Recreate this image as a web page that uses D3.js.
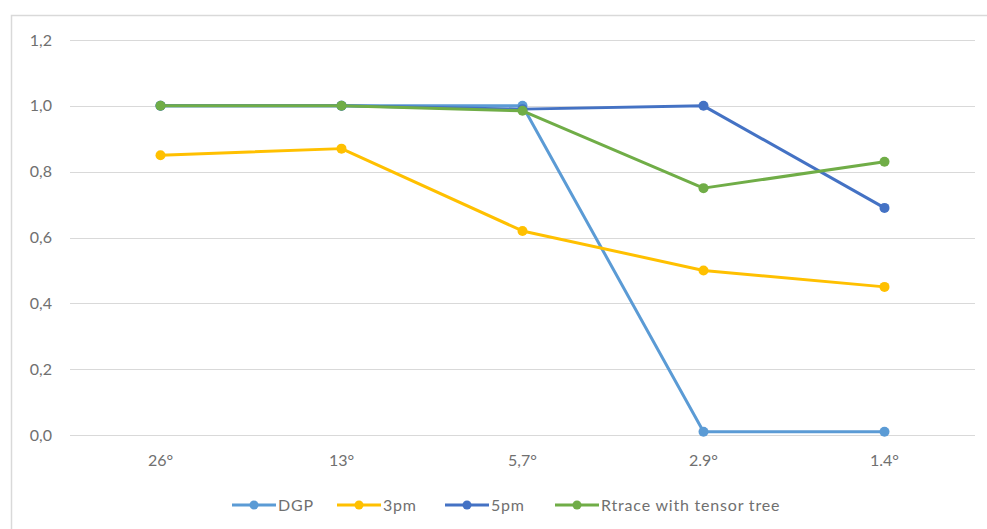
<!DOCTYPE html>
<html><head><meta charset="utf-8">
<script src="https://cdn.jsdelivr.net/npm/d3@7"></script>
<style>body{margin:0;background:#fff;}svg{display:block;font-family:Lato,"Open Sans",sans-serif;}</style>
</head><body>
<svg id="c" width="987" height="529"></svg>
<script>
const categories = ["26°", "13°", "5,7°", "2.9°", "1.4°"];
const seriesNames = ["DGP", "3pm", "5pm", "Rtrace with tensor tree"];
const dgp = [1.0, 1.0, 1.0, 0.01, 0.01];
const pm3 = [0.85, 0.87, 0.62, 0.50, 0.45];
const pm5 = [1.0, 1.0, 0.99, 1.0, 0.69];
const rtrace = [1.0, 1.0, 0.985, 0.75, 0.83];
const yTicks = [0, 0.2, 0.4, 0.6, 0.8, 1.0, 1.2];
const colors = ["#5B9BD5", "#FFC000", "#4472C4", "#70AD47"];
const allSeries = [dgp, pm3, pm5, rtrace];

const svg = d3.select("#c");
// chart frame
svg.append("rect").attr("x", 11.5).attr("y", 15.5).attr("width", 990).attr("height", 530)
  .attr("fill", "#fff").attr("stroke", "#d9d9d9").attr("stroke-width", 1.5);

const x = d3.scaleBand().domain(categories).range([70, 975]);
const y = d3.scaleLinear().domain([0, 1.2]).range([435, 40]);

// gridlines
svg.append("g").selectAll("line").data(yTicks).join("line")
  .attr("x1", 70).attr("x2", 975)
  .attr("y1", d => Math.round(y(d)) + 0.5).attr("y2", d => Math.round(y(d)) + 0.5)
  .attr("stroke", "#d9d9d9").attr("stroke-width", 1.2);

const textCol = "#707070";
// y axis labels
const fmt = d => d3.format(".1f")(d).replace(".", ",");
svg.append("g").selectAll("text").data(yTicks).join("text")
  .attr("x", 52).attr("y", d => y(d)).attr("dy", "0.35em").attr("text-anchor", "end")
  .attr("fill", textCol).attr("font-size", 16).text(fmt);

// x axis labels
svg.append("g").selectAll("text").data(categories).join("text")
  .attr("x", d => x(d) + x.bandwidth() / 2).attr("y", 466).attr("text-anchor", "middle")
  .attr("fill", textCol).attr("font-size", 16).text(d => d);

const line = d3.line().x((d, i) => x(categories[i]) + x.bandwidth() / 2).y(d => y(d));

allSeries.forEach((s, k) => {
  const g = svg.append("g");
  g.append("path").datum(s).attr("d", line).attr("fill", "none")
    .attr("stroke", colors[k]).attr("stroke-width", 3).attr("stroke-linejoin", "round");
  g.selectAll("circle").data(s).join("circle")
    .attr("cx", (d, i) => x(categories[i]) + x.bandwidth() / 2).attr("cy", d => y(d))
    .attr("r", 5).attr("fill", colors[k]);
});

// legend
const legX = [232, 337, 445, 555];
const leg = svg.append("g");
seriesNames.forEach((n, k) => {
  const g = leg.append("g").attr("transform", `translate(${legX[k]},505)`);
  g.append("line").attr("x1", 0).attr("x2", 44).attr("stroke", colors[k]).attr("stroke-width", 3);
  g.append("circle").attr("cx", 22).attr("r", 4.5).attr("fill", colors[k]);
  g.append("text").attr("x", 46).attr("dy", "0.35em").attr("fill", textCol).attr("font-size", 16)
    .attr("letter-spacing", 0.8).text(n);
});
</script>
</body></html>
